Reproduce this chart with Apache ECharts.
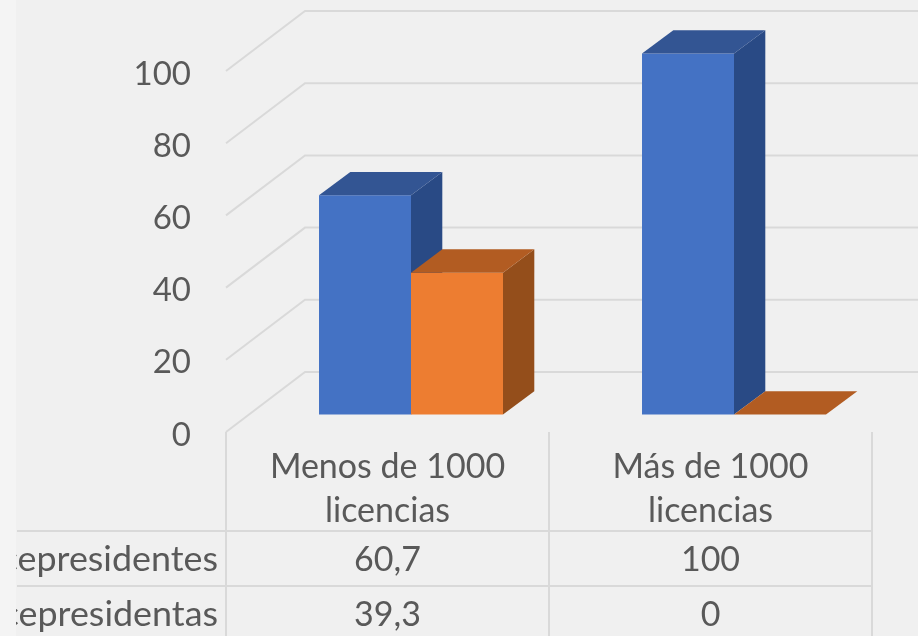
<!DOCTYPE html>
<html>
<head>
<meta charset="utf-8">
<style>
  html, body { margin: 0; padding: 0; background: #f0f0f0; }
  #chart { width: 918px; height: 636px; }
</style>
<script src="https://cdn.jsdelivr.net/npm/echarts@6/dist/echarts.min.js"></script>
</head>
<body>
<div id="chart"></div>
<script>
// datos
const categories = ['Menos de 1000\nlicencias', 'Más de 1000\nlicencias'];
const seriesNames = ['Vicepresidentes', 'Vicepresidentas'];
const vicepresidentes = [60.7, 100];
const vicepresidentas = [39.3, 0];
const yTicks = [0, 20, 40, 60, 80, 100];

// profundidad de la pared y de las barras
const WALL_DX = 79, WALL_DY = 60;
const BAR_DX = 31.3, BAR_DY = 23.3;
const FONT = 'Lato';
const FONT_SIZE = 34;
const TEXT_COLOR = '#595959';
const LINE_COLOR = '#d9d9d9';

// dibuja una barra 3D (frente, lado, tapa)
function cuboid(colors, offset) {
    return function (params, api) {
        const base = api.coord([api.value(0), 0]);
        const top = api.coord([api.value(0), api.value(1)]);
        const w = api.size([1, 0])[0] * 0.2848;
        const x0 = base[0] + offset * w;
        const x1 = x0 + w;
        const y0 = base[1];
        const y1 = top[1];
        const children = [];
        if (y0 - y1 > 0.5) {
            children.push({
                type: 'rect',
                shape: {x: x0, y: y1, width: w, height: y0 - y1},
                style: {fill: colors[0]}
            });
            children.push({
                type: 'polygon',
                shape: {points: [[x1, y0], [x1 + BAR_DX, y0 - BAR_DY], [x1 + BAR_DX, y1 - BAR_DY], [x1, y1]]},
                style: {fill: colors[2]}
            });
        }
        children.push({
            type: 'polygon',
            shape: {points: [[x0, y1], [x1, y1], [x1 + BAR_DX, y1 - BAR_DY], [x0 + BAR_DX, y1 - BAR_DY]]},
            style: {fill: colors[1]}
        });
        return {type: 'group', children: children};
    };
}

// lineas de la pared
function wallLine(params, api) {
    const p = api.coord([0, api.value(0)]);
    const left = params.coordSys.x;
    const right = params.coordSys.x + params.coordSys.width;
    return {
        type: 'polyline',
        shape: {points: [[left, p[1]], [left + WALL_DX, p[1] - WALL_DY], [right + WALL_DX, p[1] - WALL_DY]]},
        style: {fill: 'none', stroke: LINE_COLOR, lineWidth: 2}
    };
}

const chart = echarts.init(document.getElementById('chart'), null, {renderer: 'canvas'});

// tabla de datos
const tableLeft = 226, colWidth = 323, tableTop = 432, rowTop = 531, rowHeight = 55;
const tableEls = [];
function line(x1, y1, x2, y2) {
    tableEls.push({
        type: 'line', z: 1,
        shape: {x1: x1, y1: y1, x2: x2, y2: y2},
        style: {stroke: LINE_COLOR, lineWidth: 2}
    });
}
function cell(x, y, text, align, scaleX) {
    tableEls.push({
        type: 'text', z: 2, x: x, y: y, scaleX: scaleX || 1,
        style: {text: text, fill: TEXT_COLOR, font: FONT_SIZE + 'px ' + FONT, textAlign: align, textVerticalAlign: 'middle'}
    });
}
for (let i = 0; i <= categories.length; i++) {
    line(tableLeft + i * colWidth, tableTop, tableLeft + i * colWidth, 636);
}
line(17, rowTop, tableLeft + 2 * colWidth, rowTop);
line(17, rowTop + rowHeight, tableLeft + 2 * colWidth, rowTop + rowHeight);
[vicepresidentes, vicepresidentas].forEach(function (row, r) {
    const y = rowTop + rowHeight * r + 29;
    cell(218, y, seriesNames[r], 'right', 1.055);
    row.forEach(function (v, c) {
        cell(tableLeft + colWidth * (c + 0.5), y, String(v).replace('.', ','), 'center');
    });
});
// franja clara que recorta la tabla por la izquierda
tableEls.push({
    type: 'rect', z: 3,
    shape: {x: 0, y: 0, width: 16, height: 636},
    style: {fill: '#f4f4f4'}
});

chart.setOption({
    backgroundColor: '#f0f0f0',
    animation: false,
    textStyle: {fontFamily: FONT},
    grid: [
        {left: 226, top: 71, width: 646, height: 361},
        {left: 249.5, top: 53.5, width: 646, height: 361},
        {left: 226, top: 74, width: 646, height: 361}
    ],
    xAxis: [
        {
            type: 'category', gridIndex: 0, data: categories,
            axisLine: {show: false}, axisTick: {show: false},
            axisLabel: {color: TEXT_COLOR, fontSize: FONT_SIZE, fontFamily: FONT, lineHeight: 44, margin: 13}
        },
        {type: 'category', gridIndex: 1, data: categories, show: false},
        {type: 'category', gridIndex: 2, data: categories, show: false}
    ],
    yAxis: [
        {type: 'value', gridIndex: 0, min: 0, max: 100, interval: 20, show: false},
        {type: 'value', gridIndex: 1, min: 0, max: 100, interval: 20, show: false},
        {
            // solo las etiquetas del eje
            type: 'value', gridIndex: 2, min: 0, max: 100, interval: 20,
            axisLine: {show: false}, axisTick: {show: false}, splitLine: {show: false},
            axisLabel: {color: TEXT_COLOR, fontSize: 33, fontFamily: FONT, margin: 35}
        }
    ],
    series: [
        {
            type: 'custom', xAxisIndex: 0, yAxisIndex: 0, z: 1, clip: false,
            renderItem: wallLine, encode: {x: 1, y: 0},
            data: yTicks.map(function (t) { return [t, 0]; })
        },
        {
            type: 'custom', name: seriesNames[0], xAxisIndex: 1, yAxisIndex: 1, z: 2, clip: false,
            renderItem: cuboid(['#4472c4', '#335593', '#294a85'], -1),
            encode: {x: 0, y: 1},
            data: vicepresidentes.map(function (v, i) { return [i, v]; })
        },
        {
            type: 'custom', name: seriesNames[1], xAxisIndex: 1, yAxisIndex: 1, z: 3, clip: false,
            renderItem: cuboid(['#ed7d31', '#b25c22', '#944e1b'], 0),
            encode: {x: 0, y: 1},
            data: vicepresidentas.map(function (v, i) { return [i, v]; })
        }
    ],
    graphic: tableEls
});
</script>
</body>
</html>
